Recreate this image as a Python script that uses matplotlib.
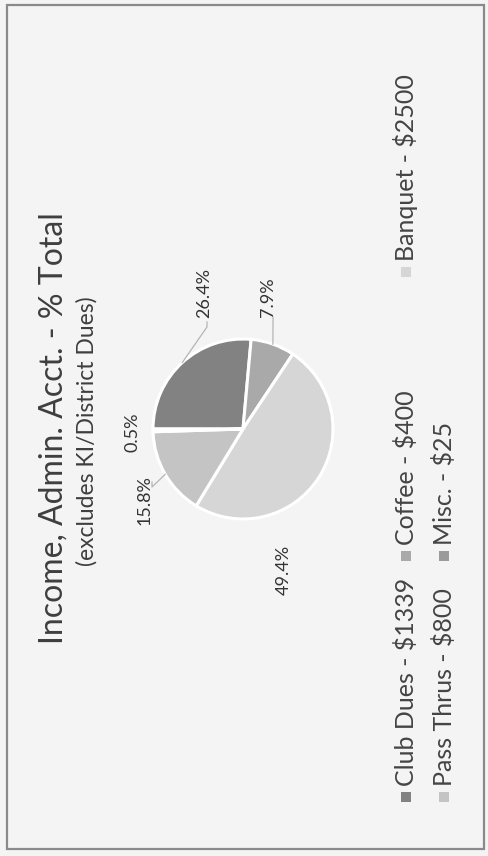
import matplotlib
matplotlib.use("Agg")
import matplotlib.pyplot as plt
from matplotlib.patches import Rectangle
import numpy as np

# ---- data ----
categories = ["Club Dues", "Coffee", "Banquet", "Pass Thrus", "Misc."]
amounts = [1339, 400, 2500, 800, 25]
legend_labels = ["Club Dues - $1339", "Coffee - $400", "Banquet - $2500",
                 "Pass Thrus - $800", "Misc. - $25"]
title = "Income, Admin. Acct. - % Total"
subtitle = "(excludes KI/District Dues)"

# ---- style / layout ----
colors = ["#828282", "#a9a9a9", "#d6d6d6", "#c4c4c4", "#9a9a9a"]
FONT = ["Lato", "DejaVu Sans"]
W, H = 489, 856
center = (243, 429)
radius = 90
# label anchor positions (image pixel coords) and leader elbows
label_pos = [(204, 293), (268, 297), (284, 570), (145, 500), (133, 432)]
leader_to = [(207, 327), (273, 322), None, (152, 487), None]
# legend grid (image coords): rows x, columns y of marker
legend_rows_x = [406, 444]
legend_cols_y = [797, 556, 272]
legend_grid = [(0, 0), (0, 1), (0, 2), (1, 0), (1, 1)]  # (row, col) per entry

fig = plt.figure(figsize=(W / 100, H / 100), dpi=100)
fig.patch.set_facecolor("#f4f4f4")
ax = fig.add_axes([0, 0, 1, 1])
ax.set_facecolor("#f4f4f4")

wedges, _ = ax.pie(amounts, colors=colors, startangle=180, counterclock=True,
                   center=center, radius=radius,
                   wedgeprops=dict(edgecolor="white", linewidth=2.2))
ax.set_xlim(0, W)
ax.set_ylim(H, 0)
ax.set_aspect("equal")
ax.axis("off")

# border
ax.add_patch(Rectangle((7, 5), 477, 844, fill=False, edgecolor="#8a8a8a",
                       linewidth=1.6, zorder=5))

total = sum(amounts)
for i, (w, v) in enumerate(zip(wedges, amounts)):
    pct = f"{v / total * 100:.1f}%"
    lx, ly = label_pos[i]
    ax.text(lx, ly, pct, rotation=90, ha="center", va="center",
            fontsize=13, color="#333333", family=FONT)
    if leader_to[i] is not None:
        mid = np.deg2rad((w.theta1 + w.theta2) / 2)
        sx = center[0] + radius * np.cos(mid)
        sy = center[1] + radius * np.sin(mid)
        ex, ey = leader_to[i]
        ax.plot([sx, ex, ex], [sy, ey, ey - 5], color="#b5b5b5", lw=0.9)

# title
ax.text(54, center[1] - 1, title, rotation=90, ha="center", va="center",
        fontsize=23, color="#3e3e3e", family=FONT)
ax.text(87, center[1] + 2, subtitle, rotation=90, ha="center", va="center",
        fontsize=16.5, color="#3e3e3e", family=FONT)

# legend
for i, lab in enumerate(legend_labels):
    r, c = legend_grid[i]
    x = legend_rows_x[r]
    y = legend_cols_y[c]
    ax.add_patch(Rectangle((x - 5, y - 5), 10, 10, facecolor=colors[i],
                           edgecolor="none", zorder=4))
    ax.text(x, y - 11, lab, rotation=90, ha="center", va="bottom",
            fontsize=18, color="#444444", family=FONT)

fig.savefig("out.png", dpi=100, facecolor=fig.get_facecolor())
